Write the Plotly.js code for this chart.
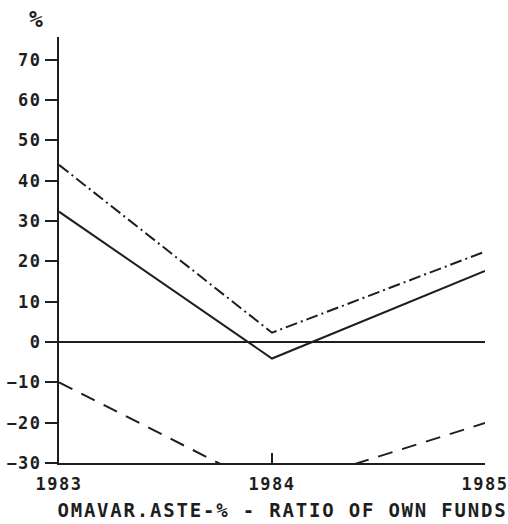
<!DOCTYPE html>
<html>
<head>
<meta charset="utf-8">
<script src="https://cdn.plot.ly/plotly-3.0.1.min.js"></script>
<style>
  html, body { margin: 0; padding: 0; background: #fff; }
  #chart { width: 508px; height: 524px; }
  /* plotter-style lettering: wide, evenly spaced capitals */
  #chart .xtick text, #chart .ytick text { letter-spacing: 1.5px; }
  #chart .annotation-text { letter-spacing: 1.8px; }
</style>
</head>
<body>
<div id="chart"></div>
<script>
// Ratio of own funds (%), 1983–1985
const years = [1983, 1984, 1985];
const seriesDashDot = [43.9, 2.3, 22.4];
const seriesSolid = [32.3, -4.1, 17.6];
const seriesDashed = [-10.0, -36.7, -20.1];
const yTickValues = [-30, -20, -10, 0, 10, 20, 30, 40, 50, 60, 70];
const xTickLabels = ['1983', '1984', '1985'];
const xAxisTitle = 'OMAVAR.ASTE-% - RATIO OF OWN FUNDS';
const yAxisUnit = '%';

const ink = '#1e1e1e';
const mono = 'DejaVu Sans Mono, monospace';
const tickFont = { family: mono, size: 17, weight: 'bold', color: ink };

const traces = [
  { x: years, y: seriesDashDot, mode: 'lines',
    line: { color: ink, width: 2, dash: '12px,4px,2px,4px' } },
  { x: years, y: seriesSolid, mode: 'lines',
    line: { color: ink, width: 2 } },
  { x: years, y: seriesDashed, mode: 'lines',
    line: { color: ink, width: 2, dash: '15px,10px' } }
];

const layout = {
  width: 508, height: 524,
  margin: { l: 59, r: 23, t: 37, b: 61 },
  paper_bgcolor: '#fff', plot_bgcolor: '#fff',
  showlegend: false,
  xaxis: {
    range: [1983, 1985],
    tickvals: years, ticktext: xTickLabels,
    ticks: 'inside', ticklen: 10, tickwidth: 2, tickcolor: ink,
    showline: true, linecolor: ink, linewidth: 2,
    showgrid: false, zeroline: false,
    ticklabelstandoff: 5,
    ticklabeloverflow: 'allow',
    tickfont: tickFont
  },
  yaxis: {
    range: [-30, 75.6],
    tickvals: yTickValues,
    ticks: 'outside', ticklen: 12, tickwidth: 2, tickcolor: ink,
    showline: true, linecolor: ink, linewidth: 2,
    showgrid: false,
    zeroline: true, zerolinecolor: ink, zerolinewidth: 2,
    tickfont: tickFont
  },
  shapes: [
    // y-axis stub continuing below the x axis
    { type: 'line', xref: 'x', x0: 1983, x1: 1983,
      yref: 'y', ysizemode: 'pixel', yanchor: -30, y0: 0, y1: -10,
      line: { color: ink, width: 2 } }
  ],
  annotations: [
    { text: xAxisTitle, xref: 'paper', yref: 'paper', x: 0.524, y: 0,
      xanchor: 'center', yanchor: 'middle', yshift: -47, showarrow: false,
      font: { family: mono, size: 19, weight: 'bold', color: ink } },
    { text: yAxisUnit, xref: 'paper', yref: 'paper', x: -0.052, y: 1.0,
      xanchor: 'center', yanchor: 'middle', yshift: 18, showarrow: false,
      font: { family: mono, size: 23, weight: 'bold', color: ink } }
  ]
};

Plotly.newPlot('chart', traces, layout, { displayModeBar: false, staticPlot: true });
</script>
</body>
</html>
